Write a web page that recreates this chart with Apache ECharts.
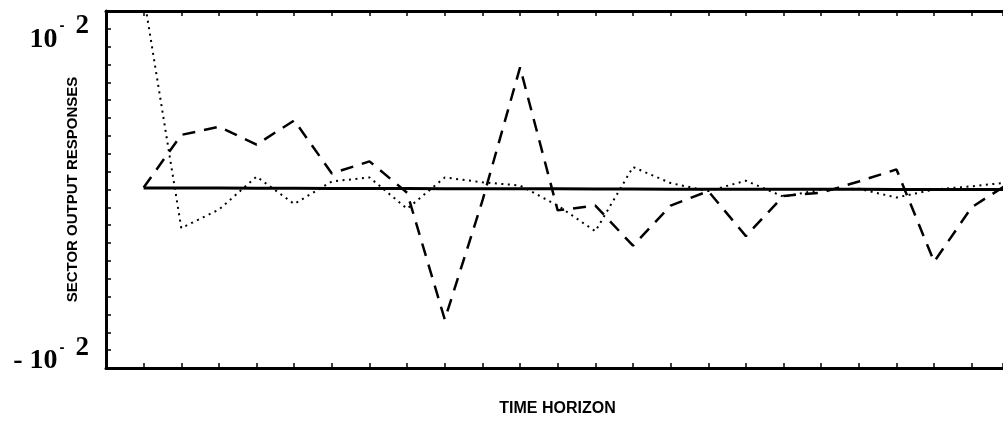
<!DOCTYPE html>
<html>
<head>
<meta charset="utf-8">
<title>Sector output responses</title>
<script src="https://cdn.jsdelivr.net/npm/echarts@6/dist/echarts.min.js"></script>
<style>
  html, body { margin: 0; padding: 0; background: #fff; }
  #chart { width: 1003px; height: 421px; }
</style>
</head>
<body>
<div id="chart"></div>
<script>
// Time steps of the horizon
const periods = [0, 1, 2, 3, 4, 5, 6, 7, 8, 9, 10, 11, 12, 13, 14, 15, 16, 17, 18, 19, 20, 21, 22, 23];

// Responses of the three sectors (solid, dashed, dotted)
const solidResponse = [0.0001, 0.0001, 0.0001, 0.00008, 0.00008, 0.00007, 0.00007, 0.00006,
  0.00005, 0.00005, 0.00004, 0.00004, 0.00003, 0.00003, 0.00002, 0.00002,
  0.00002, 0.00001, 0.00001, 0.00001, 0, 0, 0, 0];
const dashedResponse = [0.00012, 0.0034, 0.0039, 0.0028, 0.0043, 0.0010, 0.00175, -0.0002,
  -0.0081, -0.0007, 0.0076, -0.0013, -0.0010, -0.0035, -0.0010, -0.0001,
  -0.0029, -0.0004, -0.0002, 0.0005, 0.00125, -0.0045, -0.0011, 0.0004];
const dottedResponse = [0.0121, -0.0024, -0.00125, 0.0008, -0.0009, 0.0005, 0.00075, -0.0012,
  0.00075, 0.00045, 0.00025, -0.0010, -0.0026, 0.0014, 0.0004, -0.0001,
  0.00055, -0.00045, 0, 0.00005, -0.0005, 0, 0.0002, 0.00045];

// Labelled y ticks
const yTickLabels = [
  { value: 0.01, text: '{n|10}{m|-}{e|2}' },
  { value: -0.01, text: '{n|- 10}{m|-}{e|2}' }
];

const Y_STEP = 0.01 / 9;
const X_MIN = -1;
const X_MAX = 22.83;

const pairs = (ys) => periods.map((t, i) => [t, ys[i]]);

const chart = echarts.init(document.getElementById('chart'), null, { renderer: 'canvas' });

const axisLine = { show: true, onZero: false, lineStyle: { color: '#000', width: 3 } };
const axisTick = { show: true, inside: true, length: 5, lineStyle: { color: '#000', width: 1.5 } };

chart.setOption({
  animation: false,
  backgroundColor: '#fff',
  grid: { left: 106, right: 0, top: 11, bottom: 53, containLabel: false, outerBoundsMode: 'none' },
  xAxis: [
    {
      type: 'value', position: 'bottom', min: X_MIN, max: X_MAX, interval: 1,
      axisLine, axisTick, axisLabel: { show: false }, splitLine: { show: false },
      name: 'TIME HORIZON', nameLocation: 'middle', nameGap: 33,
      nameTextStyle: { fontFamily: 'Liberation Sans', fontWeight: 'bold', fontSize: 16, color: '#000', padding: [0, 0, 0, 6] }
    },
    {
      type: 'value', position: 'top', min: X_MIN, max: X_MAX, interval: 1,
      axisLine, axisTick, axisLabel: { show: false }, splitLine: { show: false }
    }
  ],
  yAxis: {
    type: 'value', min: -10 * Y_STEP, max: 10 * Y_STEP, interval: Y_STEP,
    axisLine, axisTick, splitLine: { show: false },
    name: 'SECTOR OUTPUT RESPONSES', nameLocation: 'middle', nameGap: 26, nameMoveOverlap: false,
    nameTextStyle: { fontFamily: 'Liberation Sans', fontWeight: 'bold', fontSize: 15, color: '#000' },
    axisLabel: {
      margin: 17,
      padding: [20, 0, 0, 0],
      formatter: (v) => {
        const hit = yTickLabels.find(l => Math.abs(l.value - v) < 1e-6);
        return hit ? hit.text : '';
      },
      rich: {
        n: { fontFamily: 'Liberation Serif', fontWeight: 'bold', fontSize: 28, color: '#000', verticalAlign: 'bottom', lineHeight: 30 },
        m: { fontFamily: 'Liberation Sans', fontWeight: 'bold', fontSize: 15, color: '#000', verticalAlign: 'bottom', padding: [0, 11, 20, 2], lineHeight: 16 },
        e: { fontFamily: 'Liberation Serif', fontWeight: 'bold', fontSize: 27, color: '#000', verticalAlign: 'bottom', padding: [0, 0, 14, 0], lineHeight: 26 }
      }
    }
  },
  series: [
    {
      name: 'solid', type: 'line', data: pairs(solidResponse), symbol: 'none', clip: true,
      lineStyle: { color: '#000', width: 3, type: 'solid' }
    },
    {
      name: 'dashed', type: 'line', data: pairs(dashedResponse), symbol: 'none', clip: true,
      lineStyle: { color: '#000', width: 2.5, type: [13, 9] }
    },
    {
      name: 'dotted', type: 'line', data: pairs(dottedResponse), symbol: 'none', clip: true,
      lineStyle: { color: '#000', width: 2, type: [2, 4.5] }
    }
  ]
});
</script>
</body>
</html>
